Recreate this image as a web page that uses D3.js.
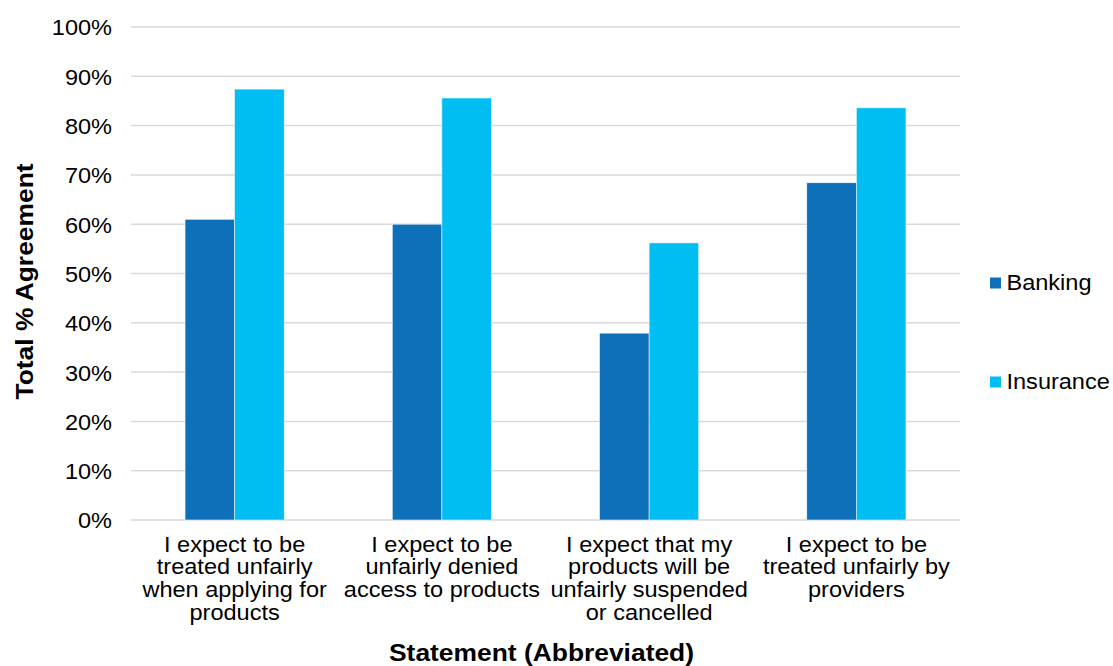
<!DOCTYPE html>
<html><head><meta charset="utf-8">
<script src="https://cdn.jsdelivr.net/npm/d3@7"></script>
<style>body{margin:0;background:#fff;} text{font-family:"Liberation Sans",Arial,sans-serif;fill:#000;}</style>
</head><body>
<svg id="c" width="1113" height="666"></svg>
<script>
const categories = [
  ["I expect to be","treated unfairly","when applying for","products"],
  ["I expect to be","unfairly denied","access to products"],
  ["I expect that my","products will be","unfairly suspended","or cancelled"],
  ["I expect to be","treated unfairly by","providers"]
];
const seriesNames = ["Banking","Insurance"];
const banking = [61.0, 60.0, 37.9, 68.4];
const insurance = [87.4, 85.6, 56.2, 83.6];
const yTicks = [0,10,20,30,40,50,60,70,80,90,100];
const colors = ["#0e70b8","#00bef2"];

const svg = d3.select("#c");
const L = 131, R = 960, T = 27, B = 520;
const SX = 1.07, SXB = 1.1;
const x = d3.scaleBand().domain(d3.range(categories.length)).range([L,R]).paddingInner(0).paddingOuter(0);
const xi = d3.scaleBand().domain(seriesNames).range([0,x.bandwidth()]).paddingInner(0).paddingOuter(1.09);
const y = d3.scaleLinear().domain([0,100]).range([B,T]);

// gridlines
svg.append("g").selectAll("line").data(yTicks).join("line")
  .attr("x1",L).attr("x2",R).attr("y1",d=>y(d)).attr("y2",d=>y(d))
  .attr("stroke","#d9d9d9").attr("stroke-width",1.5);

// y axis labels
const yAxis = d3.axisLeft(y).tickValues(yTicks).tickFormat(d=>d+"%").tickSize(0).tickPadding(0);
const ya = svg.append("g").attr("transform",`translate(${L-19},0)`).call(yAxis);
ya.select(".domain").remove();
ya.selectAll("text").style("font-size","22px").attr("dy","0.36em").attr("x",0)
  .attr("transform",`scale(${SX},1)`).style("fill","#000")
  .style("font-family",'"Liberation Sans",Arial,sans-serif');

const data = [banking, insurance];
const g = svg.append("g");
seriesNames.forEach((s,si)=>{
  g.selectAll(".b"+si).data(data[si]).join("rect")
    .attr("x",(d,i)=>x(i)+xi(s)).attr("width",xi.bandwidth())
    .attr("y",d=>y(d)).attr("height",d=>B-y(d))
    .attr("fill",colors[si]).attr("stroke","#e6f3fb").attr("stroke-width",0.6);
});

// category labels
const xl = svg.append("g");
categories.forEach((lines,i)=>{
  const t = xl.append("text").attr("text-anchor","middle").style("font-size","22px")
    .attr("transform",`translate(${x(i)+x.bandwidth()/2},551.5) scale(${SX},1)`);
  lines.forEach((ln,k)=>{
    t.append("tspan").attr("x",0).attr("y",k*23).text(ln);
  });
});

// axis titles
svg.append("text").attr("transform",`translate(${L+(R-L)/2-4},661) scale(${SXB},1)`).attr("text-anchor","middle")
  .style("font-size","24px").style("font-weight","bold").text("Statement (Abbreviated)");
svg.append("text").attr("transform",`translate(33,${(T+B)/2+8}) rotate(-90) scale(${SXB},1)`).attr("text-anchor","middle")
  .style("font-size","24px").style("font-weight","bold").text("Total % Agreement");

// legend
const lg = svg.append("g");
const ly = [282, 381];
seriesNames.forEach((s,si)=>{
  lg.append("rect").attr("x",990).attr("y",ly[si]-4.5).attr("width",11).attr("height",11).attr("fill",colors[si]);
  lg.append("text").attr("transform",`translate(1006.5,${ly[si]}) scale(${SX},1)`).attr("dy","0.36em").style("font-size","22px").text(s);
});
</script>
</body></html>
